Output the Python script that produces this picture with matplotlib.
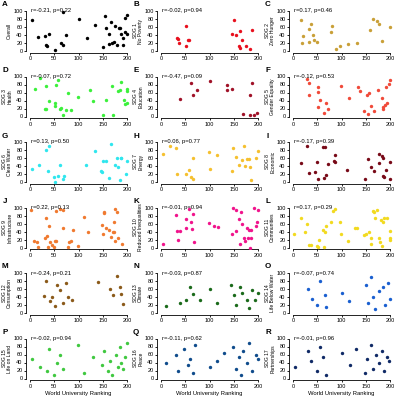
import matplotlib
matplotlib.use("Agg")
import matplotlib.pyplot as plt

plt.rcParams["font.family"] = ["Liberation Sans", "DejaVu Sans"]

letters = list("ABCDEFGHIJKLMNOPQR")
ylabels = ["Overall", "SDG 1\nNo Poverty", "SDG 2\nZero Hunger",
           "SDG 3\nHealth", "SDG 4\nEducation", "SDG 5\nGender Equality",
           "SDG 6\nClean Water", "SDG 7\nEnergy", "SDG 8\nEconomic",
           "SDG 9\nInfrastructure", "SDG 10\nReduced Inequalities", "SDG 11\nCommunities",
           "SDG 12\nConsumption", "SDG 13\nClimate", "SDG 14\nLife Below Water",
           "SDG 15\nLife on Land", "SDG 16\nPeace", "SDG 17\nPartnerships"]
stats = ["r=-0.21, p=0.22", "r=-0.02, p=0.94", "r=0.17, p=0.46",
         "r=-0.07, p=0.72", "r=-0.47, p=0.09", "r=-0.12, p=0.53",
         "r=0.13, p=0.50", "r=0.06, p=0.77", "r=-0.17, p=0.39",
         "r=0.22, p=0.13", "r=-0.01, p=0.94", "r=0.17, p=0.29",
         "r=-0.24, p=0.21", "r=-0.03, p=0.87", "r=-0.07, p=0.74",
         "r=-0.02, p=0.94", "r=-0.11, p=0.62", "r=-0.01, p=0.96"]
colors = ["#000000", "#E8101E", "#C9A038", "#3CF03C", "#A01228", "#F04A3A",
          "#30E6EE", "#F5C030", "#780A18", "#F07A30", "#F0148C", "#F2DA20",
          "#8B5A1A", "#1A6A1A", "#1A5FD0", "#40C840", "#104C8C", "#102A66"]

x_A = [5, 17, 30, 34, 36, 40, 52, 64, 68, 69, 74, 100, 117, 133, 150, 155, 157, 162, 162, 166, 170, 174, 176, 179, 183, 185, 188, 191, 192, 195, 196, 200, 200]
y_A = [77, 35, 37, 14, 12, 42, 3, 19, 97, 16, 40, 81, 33, 66, 10, 87, 58, 42, 18, 72, 20, 22, 62, 16, 58, 58, 43, 32, 14, 47, 83, 91, 43]
x_B = [32, 35, 37, 51, 52, 56, 58, 147, 150, 155, 161, 162, 163, 168, 176, 184, 188]
y_B = [33, 31, 20, 62, 12, 28, 28, 43, 78, 41, 12, 8, 50, 27, 12, 4, 52]
x_C = [16, 18, 20, 32, 34, 38, 42, 44, 49, 79, 80, 88, 96, 113, 132, 159, 164, 174, 177, 184, 200]
y_C = [78, 21, 38, 22, 56, 68, 41, 28, 23, 48, 62, 5, 12, 17, 20, 53, 80, 74, 68, 26, 61]
x_D = [10, 21, 31, 32, 34, 40, 52, 52, 54, 57, 62, 64, 69, 74, 79, 85, 99, 123, 130, 150, 157, 170, 172, 181, 185, 188, 193, 195, 200, 200, 200]
y_D = [70, 96, 18, 76, 18, 39, 33, 27, 78, 91, 18, 22, 3, 16, 59, 16, 48, 67, 40, 3, 41, 76, 3, 64, 66, 86, 41, 31, 70, 65, 33]
x_E = [39, 62, 67, 74, 101, 136, 137, 147, 169, 184, 184, 188, 191, 198]
y_E = [44, 83, 53, 66, 88, 78, 67, 70, 6, 54, 4, 85, 3, 8]
x_F = [29, 34, 34, 51, 51, 51, 56, 63, 68, 73, 99, 116, 135, 139, 147, 153, 155, 156, 161, 167, 176, 184, 185, 186, 190, 192, 193, 197, 200]
y_F = [93, 83, 54, 73, 62, 25, 41, 10, 33, 18, 77, 46, 75, 64, 13, 54, 6, 58, 27, 13, 66, 46, 25, 18, 29, 74, 33, 81, 92]
x_G = [5, 19, 34, 37, 40, 50, 52, 57, 62, 69, 70, 115, 133, 146, 148, 150, 157, 162, 166, 176, 179, 181, 186, 188, 188, 197, 200]
y_G = [33, 43, 80, 27, 89, 12, 0, 16, 42, 8, 15, 42, 77, 28, 24, 53, 53, 10, 95, 42, 59, 37, 6, 59, 61, 20, 53]
x_H = [5, 18, 30, 34, 51, 57, 62, 66, 67, 98, 101, 115, 147, 149, 155, 161, 167, 171, 174, 178, 181, 184, 186, 195, 200]
y_H = [71, 91, 85, 20, 20, 31, 12, 8, 59, 75, 33, 67, 28, 84, 62, 42, 55, 89, 39, 57, 57, 38, 6, 61, 77]
x_I = [17, 29, 34, 45, 49, 51, 62, 64, 66, 68, 73, 85, 87, 87, 111, 149, 155, 161, 168, 177, 178, 184, 185, 186, 188, 192, 200, 200]
y_I = [48, 89, 22, 24, 50, 8, 88, 10, 88, 18, 45, 53, 67, 50, 30, 8, 57, 38, 28, 71, 47, 65, 61, 14, 12, 31, 51, 8]
x_J = [3, 9, 15, 17, 30, 34, 36, 38, 40, 41, 45, 50, 52, 54, 54, 62, 69, 69, 79, 81, 84, 88, 98, 112, 119, 148, 150, 152, 153, 157, 162, 166, 172, 173, 174, 176, 176, 179, 181, 190]
y_J = [94, 17, 13, 2, 24, 73, 29, 2, 55, 14, 6, 2, 17, 17, 92, 97, 94, 50, 2, 13, 17, 45, 4, 76, 40, 57, 35, 86, 89, 48, 44, 27, 38, 64, 38, 97, 17, 90, 25, 8]
x_K = [5, 30, 34, 35, 39, 51, 51, 57, 61, 64, 66, 69, 98, 110, 117, 147, 149, 155, 155, 161, 162, 164, 167, 171, 174, 178, 179, 182, 184, 185, 186, 191, 195, 198, 200]
y_K = [10, 82, 42, 18, 41, 72, 50, 96, 63, 46, 83, 13, 62, 55, 52, 35, 100, 94, 41, 72, 10, 88, 59, 23, 17, 50, 24, 44, 0, 44, 25, 98, 55, 65, 94]
x_L = [3, 17, 25, 29, 34, 38, 49, 51, 54, 62, 64, 66, 68, 79, 83, 86, 97, 98, 114, 128, 132, 147, 150, 156, 160, 161, 165, 168, 170, 174, 177, 179, 182, 184, 185, 188, 193, 199, 199, 200]
y_L = [34, 73, 40, 58, 6, 6, 3, 2, 18, 44, 2, 38, 55, 63, 92, 97, 63, 34, 16, 48, 48, 31, 33, 38, 25, 8, 92, 90, 73, 95, 25, 13, 69, 3, 63, 73, 73, 25, 20, 41]
x_M = [29, 33, 41, 45, 52, 56, 62, 68, 74, 78, 87, 140, 165, 171, 179, 186, 188, 192]
y_M = [42, 80, 30, 40, 18, 70, 58, 25, 75, 40, 32, 78, 60, 45, 92, 65, 48, 22]
x_N = [10, 39, 52, 60, 66, 80, 100, 115, 144, 150, 155, 162, 168, 177, 182, 188, 194, 200]
y_N = [18, 25, 32, 65, 48, 32, 60, 25, 70, 45, 20, 65, 50, 32, 12, 58, 32, 50]
x_O = [30, 40, 50, 55, 65, 68, 100, 115, 150, 155, 160, 165, 170, 178, 185, 190, 195, 200]
y_O = [60, 35, 20, 80, 45, 15, 50, 30, 70, 25, 90, 40, 10, 55, 65, 20, 75, 35]
x_P = [5, 20, 35, 40, 50, 55, 62, 68, 98, 112, 130, 148, 152, 160, 165, 170, 178, 182, 185, 188, 192, 195, 200]
y_P = [50, 30, 20, 75, 10, 40, 60, 25, 85, 15, 55, 35, 70, 20, 45, 10, 60, 30, 80, 40, 25, 55, 90]
x_Q = [10, 30, 35, 48, 55, 60, 65, 70, 100, 115, 130, 148, 155, 160, 165, 170, 178, 182, 188, 195, 200]
y_Q = [40, 60, 20, 75, 35, 50, 15, 85, 30, 45, 65, 80, 25, 55, 10, 70, 40, 90, 20, 60, 50]
x_R = [5, 30, 38, 50, 55, 62, 68, 100, 118, 130, 148, 152, 160, 165, 172, 178, 183, 188, 193, 198]
y_R = [30, 70, 45, 20, 80, 55, 10, 65, 35, 75, 15, 50, 85, 25, 60, 40, 70, 20, 55, 45]

xs = [x_A, x_B, x_C, x_D, x_E, x_F, x_G, x_H, x_I, x_J, x_K, x_L, x_M, x_N, x_O, x_P, x_Q, x_R]
ys = [y_A, y_B, y_C, y_D, y_E, y_F, y_G, y_H, y_I, y_J, y_K, y_L, y_M, y_N, y_O, y_P, y_Q, y_R]

W, H = 396, 400
fig = plt.figure(figsize=(W / 100, H / 100), dpi=100)
col_x0 = [30, 161, 293]   # pixel of data x=0
xscale = 97 / 200.0
yscale = 40 / 100.0

for i in range(18):
    r, c = divmod(i, 3)
    x0 = col_x0[c]
    Y0 = 51 + 65.5 * r
    left = x0 - 8 * xscale
    width = 216 * xscale
    bottom_px = Y0 + 4 * yscale
    height = 108 * yscale
    ax = fig.add_axes([left / W, 1 - bottom_px / H, width / W, height / H])
    ax.scatter(xs[i], ys[i], s=6, color=colors[i], linewidths=0, zorder=3)
    ax.set_xlim(-8, 208)
    ax.set_ylim(-4, 104)
    for s in ["top", "right"]:
        ax.spines[s].set_visible(False)
    ax.spines["left"].set_bounds(0, 100)
    ax.spines["bottom"].set_bounds(0, 200)
    for s in ["left", "bottom"]:
        ax.spines[s].set_linewidth(0.6)
    ax.set_xticks([0, 50, 100, 150, 200])
    ax.set_yticks([0, 20, 40, 60, 80, 100])
    ax.tick_params(axis="both", labelsize=4.0, length=1.5, width=0.6, pad=1.0)
    ax.set_ylabel(ylabels[i], fontsize=3.6, labelpad=0.8, linespacing=1.1)
    ax.text(2, 100, stats[i], fontsize=4.2, va="center", ha="left")
    if r == 5:
        ax.set_xlabel("World University Ranking", fontsize=4.2, labelpad=1.5)
    fig.text((x0 - 25) / W, 1 - (Y0 - 46) / H, letters[i], fontsize=5.8,
             fontweight="bold", ha="center", va="center")

fig.savefig("out.png", dpi=100)
